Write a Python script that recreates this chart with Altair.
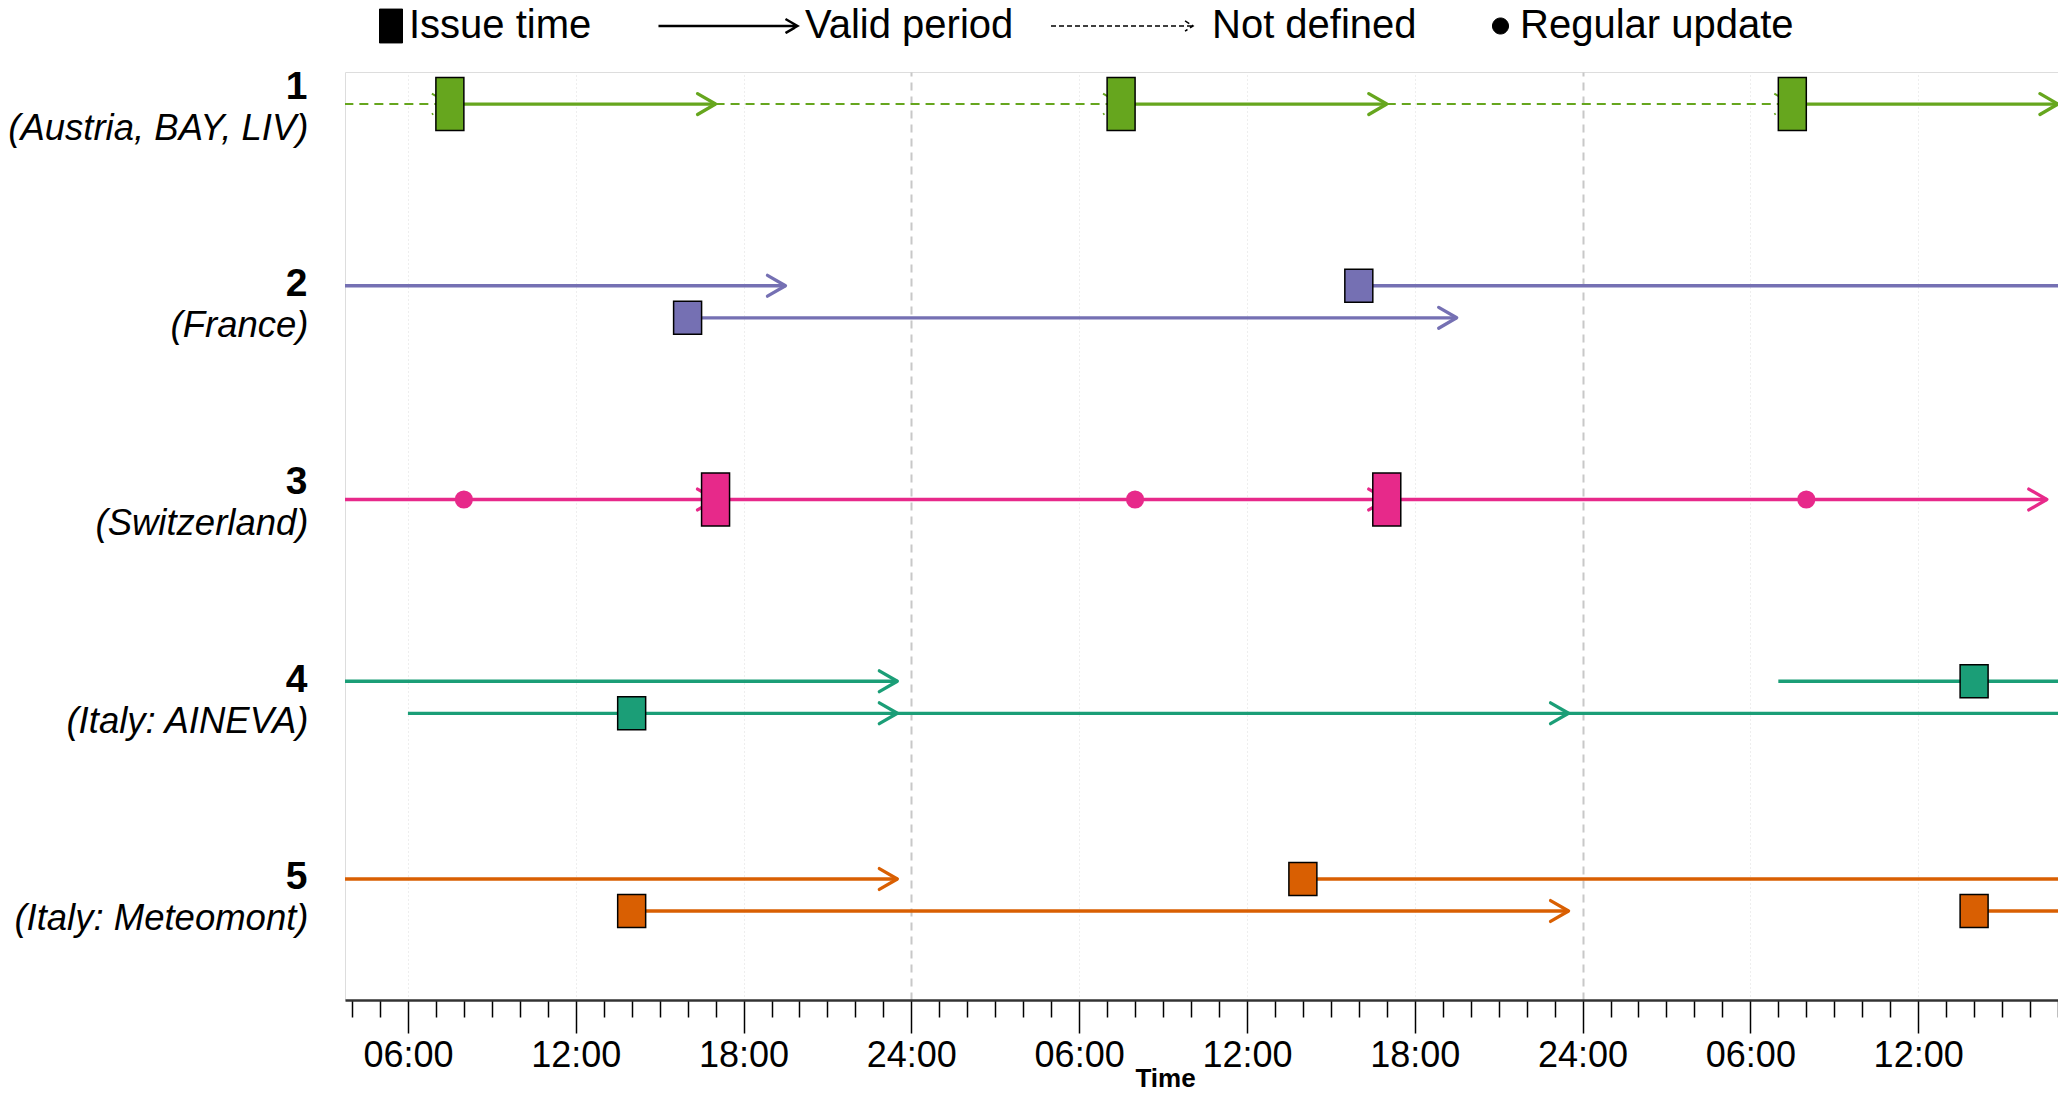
import json
import altair as alt
import pandas as pd

# ---------------- data (hours counted from 00:00 of day 1) ----------------
ROW_IDS = [1, 2, 3, 4, 5]
ROW_NUMBERS = ["1", "2", "3", "4", "5"]
ROW_NAMES = ["(Austria, BAY, LIV)", "(France)", "(Switzerland)",
             "(Italy: AINEVA)", "(Italy: Meteomont)"]
ROW_COLORS = ["#66a61e", "#7570b3", "#e7298a", "#1b9e77", "#d95f02"]

# valid-period segments: row, lane (-1 upper, 0 single, 1 lower), start, end, defined
SEG_ROW = [1, 1, 1, 1, 1, 1, 2, 2, 2, 3, 3, 3, 4, 4, 4, 4, 4, 5, 5, 5, 5]
SEG_LANE = [0, 0, 0, 0, 0, 0, -1, 1, -1, 0, 0, 0, -1, -1, 1, 1, 1, -1, 1, -1, 1]
SEG_START = [-7, 7.5, 17, 31.5, 41, 55.5, -8, 16, 40, -7, 17, 41,
             -10, 55, 6, 23.5, 47.5, -10, 14, 38, 62]
SEG_END = [7.5, 17, 31.5, 41, 55.5, 65, 19.5, 43.5, 67.5, 17, 41, 64.6,
           23.5, 71.5, 23.5, 47.5, 71.5, 23.5, 47.5, 71.5, 95.5]
SEG_DEFINED = [False, True, False, True, False, True, True, True, True,
               True, True, True, True, True, True, True, True, True, True, True, True]

# issue times
ISSUE_ROW = [1, 1, 1, 2, 2, 3, 3, 4, 4, 5, 5, 5]
ISSUE_LANE = [0, 0, 0, 1, -1, 0, 0, 1, -1, 1, -1, 1]
ISSUE_HOUR = [7.5, 31.5, 55.5, 16, 40, 17, 41, 14, 62, 14, 38, 62]

# regular updates
UPDATE_ROW = [3, 3, 3]
UPDATE_LANE = [0, 0, 0]
UPDATE_HOUR = [8, 32, 56]

LEGEND_LABELS = ["Issue time", "Valid period", "Not defined", "Regular update"]
HOUR_TICKS = list(range(4, 66))

# ---------------- layout / style ----------------
LANE_SEP = 0.081
X_DOMAIN = [3.75, 65.0]
Y_DOMAIN = [0.838, 5.531]
FONT = "Liberation Sans"


def frame(rows, lanes, **cols):
    df = pd.DataFrame(dict(row=rows, lane=lanes, **cols))
    df["yv"] = df["row"] + df["lane"] * LANE_SEP
    df["color"] = [ROW_COLORS[r - 1] for r in df["row"]]
    return df


seg = frame(SEG_ROW, SEG_LANE, start=SEG_START, end=SEG_END, defined=SEG_DEFINED)
issue = frame(ISSUE_ROW, ISSUE_LANE, hour=ISSUE_HOUR)
update = frame(UPDATE_ROW, UPDATE_LANE, hour=UPDATE_HOUR)
rows_df = pd.DataFrame({"yv": ROW_IDS})
legend_df = pd.DataFrame({"kind": LEGEND_LABELS})

XS = alt.Scale(domain=X_DOMAIN, nice=False, zero=False)
YS = alt.Scale(domain=Y_DOMAIN, nice=False, zero=False, reverse=True)

x_label_expr = ("datum.value % 6 != 0 ? '' : (datum.value % 24 == 0 ? '24:00' : "
                "((datum.value % 24) < 10 ? '0' : '') + (datum.value % 24) + ':00')")

AX_X = alt.Axis(
    values=HOUR_TICKS, labelExpr=x_label_expr, labelOverlap=False, labelFlush=False,
    labelFont=FONT, labelFontSize=36, labelColor="black", labelPadding=5,
    tickSize={"condition": {"test": "datum.value % 6 == 0", "value": 33}, "value": 17},
    tickColor="black", tickWidth=1.5,
    domainColor="#333333", domainWidth=2.5,
    grid=True,
    gridColor={"condition": {"test": "datum.value % 24 == 0", "value": "#c8c8c8"}, "value": "#dddddd"},
    gridDash={"condition": {"test": "datum.value % 24 == 0", "value": [8, 6]}, "value": [1, 3]},
    gridWidth={"condition": {"test": "datum.value % 24 == 0", "value": 2}, "value": 1},
    gridOpacity={"condition": {"test": "datum.value % 6 != 0", "value": 0}, "value": 1},
    title="Time", titleFont=FONT, titleFontSize=26, titleFontWeight="bold", titleColor="black",
    titleX=820, titleY=78, titleBaseline="middle",
)

AX_NUM = alt.Axis(
    values=ROW_IDS, labelExpr=json.dumps(ROW_NUMBERS) + "[datum.value - 1]",
    orient="left", domain=False, ticks=False, tickSize=0, grid=False,
    labelPadding=38, labelOffset=-18, labelFont=FONT, labelFontSize=39,
    labelFontWeight="bold", labelColor="black", labelLimit=600, title=None,
)
AX_NAME = alt.Axis(
    values=ROW_IDS, labelExpr=json.dumps(ROW_NAMES) + "[datum.value - 1]",
    orient="left", domain=False, ticks=False, tickSize=0, grid=False,
    labelPadding=37, labelOffset=24, labelFont=FONT, labelFontSize=36.5,
    labelFontStyle="italic", labelColor="black", labelLimit=600, title=None,
)

Y = alt.Y("yv:Q", scale=YS, axis=AX_NUM)

ARROW = "M-1,-0.578L0,0L-1,0.578"
TALL_BOX = "M-0.528,-1H0.528V1H-0.528Z"
SHORT_BOX = "M-0.848,-1H0.848V1H-0.848Z"

solid = alt.Chart(seg).transform_filter("datum.defined").mark_rule(
    strokeWidth=3.3, clip=True).encode(
    x=alt.X("start:Q", scale=XS, axis=AX_X), x2="end:Q", y=Y,
    color=alt.Color("color:N", scale=None))

dashed = alt.Chart(seg).transform_filter("!datum.defined").mark_rule(
    strokeWidth=2, strokeDash=[9, 6], clip=True).encode(
    x=alt.X("start:Q", scale=XS, axis=AX_X), x2="end:Q", y=Y,
    color=alt.Color("color:N", scale=None))

arrows = alt.Chart(seg).transform_filter("datum.defined").mark_point(
    shape=ARROW, size=1300, strokeWidth=3.3, filled=False, opacity=1, clip=True,
    strokeCap="round", strokeJoin="round").encode(
    x=alt.X("end:Q", scale=XS, axis=AX_X), y=Y,
    color=alt.Color("color:N", scale=None))

dashed_arrows = alt.Chart(seg).transform_filter("!datum.defined").mark_point(
    shape=ARROW, size=1300, strokeWidth=2, strokeDash=[6, 4], filled=False, opacity=1,
    clip=True).encode(
    x=alt.X("end:Q", scale=XS, axis=AX_X), y=Y,
    color=alt.Color("color:N", scale=None))

tall_boxes = alt.Chart(issue).transform_filter("datum.lane == 0").mark_point(
    shape=TALL_BOX, size=2809, filled=True, opacity=1, stroke="black", strokeWidth=1.5,
    clip=True).encode(
    x=alt.X("hour:Q", scale=XS, axis=AX_X), y=Y,
    fill=alt.Fill("color:N", scale=None))

short_boxes = alt.Chart(issue).transform_filter("datum.lane != 0").mark_point(
    shape=SHORT_BOX, size=1089, filled=True, opacity=1, stroke="black", strokeWidth=1.5,
    clip=True).encode(
    x=alt.X("hour:Q", scale=XS, axis=AX_X), y=Y,
    fill=alt.Fill("color:N", scale=None))

dots = alt.Chart(update).mark_circle(size=330, opacity=1, clip=True).encode(
    x=alt.X("hour:Q", scale=XS, axis=AX_X), y=Y,
    color=alt.Color("color:N", scale=None))

# legend (symbols drawn by the library legend, built from a hidden layer)
LEG = alt.Legend(
    title=None, orient="none", legendX=17, legendY=-66, direction="horizontal",
    columnPadding=0, labelOffset=6, labelFont=FONT, labelFontSize=40,
    labelColor="black", clipHeight=40, padding=0, labelLimit=600, symbolOffset=0,
)
LEG_SHAPES = [
    "M-1,0M-0.15,-0.85H1V0.85H-0.15Z",
    "M-1,0M-0.363,0H1M0.882,-0.069L1,0L0.882,0.069",
    "M-1,0M-0.621,0H0.874M0.79,-0.053L0.874,0L0.79,0.053",
    "M-1,0M0.562,0A0.167,0.167,0,1,1,0.896,0A0.167,0.167,0,1,1,0.562,0Z",
]
LEG_SIZES = [1600, 41616, 36100, 9216]

legend_layer = alt.Chart(legend_df).transform_filter("false").mark_point(
    filled=True, opacity=1).encode(
    shape=alt.Shape("kind:N", scale=alt.Scale(domain=LEGEND_LABELS, range=LEG_SHAPES), legend=LEG),
    fill=alt.Fill("kind:N", scale=alt.Scale(domain=LEGEND_LABELS,
                  range=["black", "transparent", "transparent", "black"]), legend=LEG),
    stroke=alt.Stroke("kind:N", scale=alt.Scale(domain=LEGEND_LABELS,
                      range=["black", "black", "black", "black"]), legend=LEG),
    size=alt.Size("kind:N", scale=alt.Scale(type="ordinal", domain=LEGEND_LABELS,
                  range=LEG_SIZES), legend=LEG),
    strokeDash=alt.StrokeDash("kind:N", scale=alt.Scale(domain=LEGEND_LABELS,
                              range=[[1, 0], [1, 0], [5, 3], [1, 0]]), legend=LEG),
    strokeWidth=alt.StrokeWidth("kind:N", scale=alt.Scale(type="ordinal", domain=LEGEND_LABELS,
                                range=[1, 2.5, 1.5, 1]), legend=LEG),
)

main = alt.layer(solid, dashed, arrows, dashed_arrows, tall_boxes, short_boxes, dots,
                 legend_layer)

names = alt.Chart(rows_df).mark_point(opacity=0).encode(
    y=alt.Y("yv:Q", scale=YS, axis=AX_NAME))

chart = alt.layer(main, names).resolve_scale(y="independent").properties(
    width=1713, height=928,
    autosize=alt.AutoSizeParams(type="none"),
    padding={"left": 337, "right": 0, "top": 64, "bottom": 92},
).configure_view(stroke=None).configure(font=FONT)

chart.save("out.html", embed_options={"renderer": "svg", "actions": False})
